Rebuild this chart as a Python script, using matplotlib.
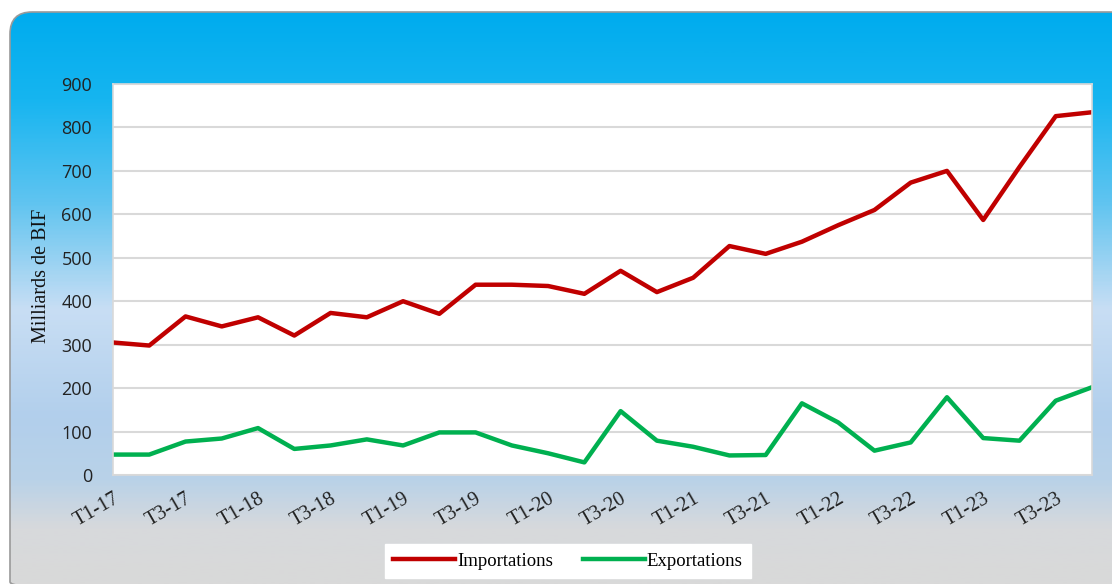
import numpy as np
import matplotlib.pyplot as plt
from matplotlib.patches import FancyBboxPatch
from matplotlib.colors import LinearSegmentedColormap

# trimestres T1-17 ... T4-23
trimestres = [f"T{q}-{a}" for a in range(17, 24) for q in range(1, 5)]

# valeurs (milliards de BIF)
importations = [305, 298, 365, 342, 363, 321, 373, 363, 400, 371, 438, 438, 435, 417,
                470, 421, 454, 527, 509, 537, 575, 610, 673, 700, 587, 709, 826, 835]
exportations = [47, 47, 77, 84, 108, 60, 68, 82, 68, 98, 98, 68, 50, 29,
                147, 79, 65, 45, 46, 165, 121, 56, 75, 179, 85, 79, 171, 202]

W, H = 1112, 584
fig = plt.figure(figsize=(W / 100, H / 100), dpi=100)
fig.patch.set_facecolor('white')

# fond dégradé du cadre arrondi
bg = fig.add_axes([0, 0, 1, 1])
bg.set_xlim(0, W)
bg.set_ylim(H, 0)
bg.axis('off')
stops = [(0.00, (0, 172, 238)), (0.15, (22, 181, 240)), (0.33, (95, 196, 240)),
         (0.52, (200, 222, 244)), (0.71, (178, 207, 236)), (0.82, (185, 210, 232)),
         (0.905, (215, 217, 220)), (1.00, (217, 217, 217))]
cmap = LinearSegmentedColormap.from_list('fond', [(t, tuple(c / 255 for c in rgb)) for t, rgb in stops])
grad = np.linspace(0, 1, 400).reshape(-1, 1)
top, bottom = 12, 584
im = bg.imshow(grad, cmap=cmap, aspect='auto', extent=[10, W + 30, bottom, top], origin='upper')
cadre = FancyBboxPatch((10, top), W + 20 - 10, bottom - top + 20,
                       boxstyle="round,pad=0,rounding_size=22",
                       facecolor='none', edgecolor='#9a9a9a', lw=1.2)
bg.add_patch(cadre)
im.set_clip_path(cadre)

# zone du graphique
x = np.arange(len(trimestres))
ax = fig.add_axes([113 / W, 1 - 475 / H, (1092 - 113) / W, (475 - 84) / H])
ax.set_facecolor('white')
ax.plot(x, importations, color='#C00000', lw=3.2, label='Importations', solid_joinstyle='round')
ax.plot(x, exportations, color='#00B050', lw=3.2, label='Exportations', solid_joinstyle='round')

ax.set_xlim(0, len(trimestres) - 1)
ax.set_ylim(0, 900)
ax.set_yticks(range(0, 901, 100))
ax.set_xticks(x[::2])
ax.set_xticklabels(trimestres[::2], rotation=30, ha='right', va='top', rotation_mode='anchor',
                   family='Liberation Serif', fontsize=14.5)
for lab in ax.get_yticklabels():
    lab.set_family('Open Sans')
    lab.set_fontsize(13)
ax.tick_params(axis='y', length=0, pad=15, colors='#222222')
ax.tick_params(axis='x', length=0, pad=10, colors='#222222')
ax.grid(axis='y', color='#d9d9d9', lw=1.5)
ax.set_axisbelow(True)
for s in ax.spines.values():
    s.set_color('#d9d9d9')
    s.set_linewidth(1.2)

ax.set_ylabel('Milliards de BIF', family='Liberation Serif', fontsize=14.5, color='#111111')
ax.yaxis.set_label_coords((51 - 113) / (1092 - 113), 0.51)

leg = fig.legend(loc='center', bbox_to_anchor=(568 / W, 1 - 561 / H), ncol=2,
                 prop={'family': 'Liberation Serif', 'size': 13.5},
                 frameon=True, fancybox=False, framealpha=1, edgecolor='white',
                 facecolor='white', handlelength=3.3, handletextpad=0.1,
                 columnspacing=1.6, borderpad=0.45)

fig.savefig('out.png', dpi=100)
